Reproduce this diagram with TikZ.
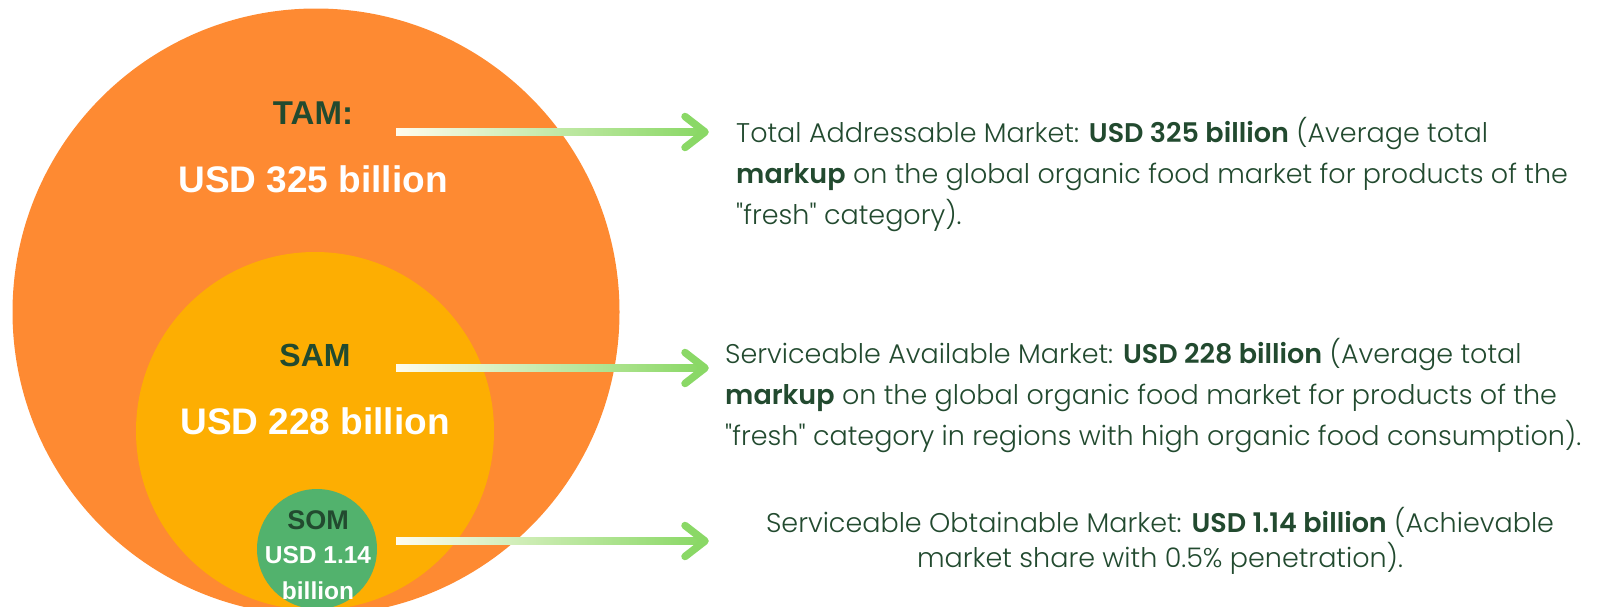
\documentclass[tikz,border=0pt]{standalone}
\usepackage{fontspec}
\setmainfont{Liberation Sans}
\newfontfamily\descfont{Poppins}[UprightFont={* Light},BoldFont={* SemiBold}]
\usetikzlibrary{calc}
\definecolor{tamc}{HTML}{FE8A32}
\definecolor{samc}{HTML}{FDAE02}
\definecolor{somc}{HTML}{52B26D}
\definecolor{dkgreen}{HTML}{224A2F}
\definecolor{arrw}{HTML}{FFFCEE}
\definecolor{arrg}{HTML}{8AD866}
\tikzset{
  ring/.style={circle, inner sep=0pt, draw=none},
  lbl/.style={inner sep=0pt, font=\bfseries},
  desc/.style={inner sep=0pt, text=dkgreen, font=\descfont\fontsize{27}{41}\selectfont},
  shaft/.style={left color=arrw, right color=arrg},
  chevron/.style={draw=arrg, line width=7.5pt, line cap=round, line join=round},
}
\begin{document}
\begin{tikzpicture}[x=1pt,y=-1pt]
\useasboundingbox (0,0) rectangle (1597,606);
\clip (0,0) rectangle (1597,606);
% circles
\node[ring, fill=tamc, minimum size=607pt] (tam) at (316,312) {};
\node[ring, fill=samc, minimum size=358pt] (sam) at (315,431) {};
\node[ring, fill=somc, minimum size=120pt] (som) at (317,549) {};
% circle labels
\node[lbl, text=dkgreen, font=\bfseries\fontsize{33}{33}\selectfont] (tamt) at (313,113) {TAM:};
\node[lbl, text=white, font=\bfseries\fontsize{37}{37}\selectfont] (tamv) at (313,179) {USD 325 billion};
\node[lbl, text=dkgreen, font=\bfseries\fontsize{32}{32}\selectfont] (samt) at (315,355) {SAM};
\node[lbl, text=white, font=\bfseries\fontsize{37}{37}\selectfont] (samv) at (315,421) {USD 228 billion};
\node[lbl, text=dkgreen, font=\bfseries\fontsize{27}{27}\selectfont] (somt) at (318,520) {SOM};
\node[lbl, text=white, font=\bfseries\fontsize{24.5}{24.5}\selectfont] (somv) at (318,555) {USD 1.14};
\node[lbl, text=white, font=\bfseries\fontsize{24.5}{24.5}\selectfont] (somb) at (318,591) {billion};
% arrows
\coordinate (a1s) at (396,132); \coordinate (a1e) at (705,132);
\coordinate (a2s) at (396,368); \coordinate (a2e) at (705,368);
\coordinate (a3s) at (396,541); \coordinate (a3e) at (705,541);
\foreach \s/\e in {a1s/a1e,a2s/a2e,a3s/a3e}{
  \shade[shaft] ($(\s)+(0,-3.7)$) rectangle ($(\e)+(-5,3.7)$);
  \draw[chevron] ($(\e)+(-20,-15.5)$) -- (\e) -- ($(\e)+(-20,15.5)$);
}
% descriptions
\node[desc, anchor=west, align=left] (t1) at (736,175) {Total Addressable Market: \textbf{USD 325 billion} (Average total\\\textbf{markup} on the global organic food market for products of the\\"fresh" category).};
\node[desc, anchor=west, align=left] (t2) at (725,395) {Serviceable Available Market: \textbf{USD 228 billion} (Average total\\\textbf{markup} on the global organic food market for products of the\\"fresh" category in regions with high organic food consumption).};
\node[desc, align=center, font=\descfont\fontsize{27}{35}\selectfont] (t3) at (1160,541) {Serviceable Obtainable Market: \textbf{USD 1.14 billion} (Achievable\\market share with 0.5\% penetration).};
\end{tikzpicture}
\end{document}
